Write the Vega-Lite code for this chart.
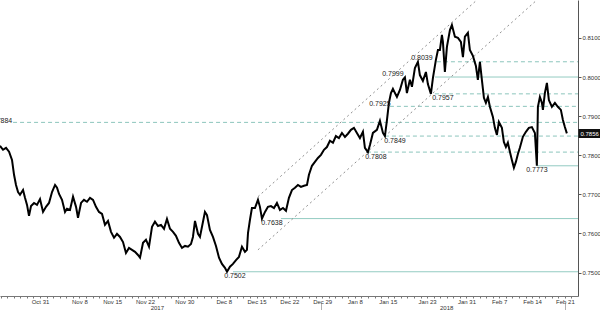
{
  "$schema": "https://vega.github.io/schema/vega-lite/v6.json",
  "width": 578,
  "height": 296,
  "autosize": {"type": "none"},
  "padding": {"left": 0, "top": 0, "right": 22, "bottom": 14},
  "background": "white",
  "config": {"view": {"stroke": null}, "font": "Liberation Sans"},
  "resolve": {"axis": {"x": "independent", "y": "independent"}},
  "datasets": {
    "price": [
      {"t": -6.10, "p": 0.7824}, {"t": -5.64, "p": 0.7814}, {"t": -5.18, "p": 0.7819}, {"t": -4.72, "p": 0.7809},
      {"t": -4.27, "p": 0.7788}, {"t": -3.96, "p": 0.7750}, {"t": -3.66, "p": 0.7724}, {"t": -3.35, "p": 0.7706},
      {"t": -3.05, "p": 0.7699}, {"t": -2.59, "p": 0.7711}, {"t": -2.29, "p": 0.7691}, {"t": -1.98, "p": 0.7673},
      {"t": -1.68, "p": 0.7645}, {"t": -1.37, "p": 0.7670}, {"t": -0.91, "p": 0.7678}, {"t": -0.46, "p": 0.7673},
      {"t": 0.00, "p": 0.7688}, {"t": 0.46, "p": 0.7655}, {"t": 0.91, "p": 0.7668}, {"t": 1.37, "p": 0.7678},
      {"t": 1.83, "p": 0.7706}, {"t": 2.29, "p": 0.7724}, {"t": 2.59, "p": 0.7717}, {"t": 2.90, "p": 0.7701},
      {"t": 3.35, "p": 0.7686}, {"t": 3.81, "p": 0.7655}, {"t": 4.11, "p": 0.7663}, {"t": 4.57, "p": 0.7660},
      {"t": 5.03, "p": 0.7694}, {"t": 5.49, "p": 0.7668}, {"t": 5.79, "p": 0.7640}, {"t": 6.25, "p": 0.7678},
      {"t": 6.70, "p": 0.7686}, {"t": 7.16, "p": 0.7681}, {"t": 7.62, "p": 0.7691}, {"t": 8.08, "p": 0.7686},
      {"t": 8.53, "p": 0.7668}, {"t": 8.99, "p": 0.7655}, {"t": 9.45, "p": 0.7650}, {"t": 9.90, "p": 0.7622},
      {"t": 10.36, "p": 0.7632}, {"t": 10.82, "p": 0.7604}, {"t": 11.28, "p": 0.7589}, {"t": 11.73, "p": 0.7599},
      {"t": 12.19, "p": 0.7591}, {"t": 12.65, "p": 0.7578}, {"t": 13.10, "p": 0.7550}, {"t": 13.56, "p": 0.7563},
      {"t": 14.02, "p": 0.7558}, {"t": 14.48, "p": 0.7553}, {"t": 14.93, "p": 0.7545}, {"t": 15.24, "p": 0.7538},
      {"t": 15.70, "p": 0.7576}, {"t": 16.15, "p": 0.7584}, {"t": 16.61, "p": 0.7566}, {"t": 17.07, "p": 0.7617},
      {"t": 17.52, "p": 0.7630}, {"t": 17.98, "p": 0.7619}, {"t": 18.44, "p": 0.7622}, {"t": 18.90, "p": 0.7612},
      {"t": 19.35, "p": 0.7637}, {"t": 19.81, "p": 0.7612}, {"t": 20.27, "p": 0.7604}, {"t": 20.72, "p": 0.7594},
      {"t": 21.18, "p": 0.7576}, {"t": 21.64, "p": 0.7563}, {"t": 22.10, "p": 0.7568}, {"t": 22.55, "p": 0.7566},
      {"t": 23.01, "p": 0.7573}, {"t": 23.31, "p": 0.7591}, {"t": 23.62, "p": 0.7632}, {"t": 24.08, "p": 0.7599},
      {"t": 24.38, "p": 0.7591}, {"t": 24.84, "p": 0.7630}, {"t": 25.14, "p": 0.7655}, {"t": 25.45, "p": 0.7647},
      {"t": 25.90, "p": 0.7609}, {"t": 26.36, "p": 0.7591}, {"t": 26.82, "p": 0.7568}, {"t": 27.28, "p": 0.7538},
      {"t": 27.73, "p": 0.7522}, {"t": 28.19, "p": 0.7512}, {"t": 28.50, "p": 0.7502}, {"t": 28.95, "p": 0.7515},
      {"t": 29.41, "p": 0.7522}, {"t": 29.87, "p": 0.7532}, {"t": 30.32, "p": 0.7540}, {"t": 30.78, "p": 0.7566},
      {"t": 31.24, "p": 0.7553}, {"t": 31.54, "p": 0.7558}, {"t": 31.70, "p": 0.7601}, {"t": 32.00, "p": 0.7635},
      {"t": 32.30, "p": 0.7665}, {"t": 32.76, "p": 0.7665}, {"t": 33.22, "p": 0.7686}, {"t": 33.52, "p": 0.7668},
      {"t": 33.83, "p": 0.7638}, {"t": 34.29, "p": 0.7655}, {"t": 34.74, "p": 0.7668}, {"t": 35.20, "p": 0.7670},
      {"t": 35.66, "p": 0.7665}, {"t": 36.11, "p": 0.7678}, {"t": 36.57, "p": 0.7660}, {"t": 37.03, "p": 0.7665},
      {"t": 37.49, "p": 0.7658}, {"t": 37.94, "p": 0.7691}, {"t": 38.40, "p": 0.7711}, {"t": 38.86, "p": 0.7717},
      {"t": 39.31, "p": 0.7724}, {"t": 39.77, "p": 0.7719}, {"t": 40.23, "p": 0.7722}, {"t": 40.69, "p": 0.7724},
      {"t": 40.99, "p": 0.7750}, {"t": 41.45, "p": 0.7773}, {"t": 41.90, "p": 0.7783}, {"t": 42.36, "p": 0.7793},
      {"t": 42.82, "p": 0.7801}, {"t": 43.28, "p": 0.7814}, {"t": 43.73, "p": 0.7821}, {"t": 44.19, "p": 0.7837},
      {"t": 44.65, "p": 0.7832}, {"t": 45.10, "p": 0.7849}, {"t": 45.56, "p": 0.7844}, {"t": 46.02, "p": 0.7857},
      {"t": 46.48, "p": 0.7847}, {"t": 46.93, "p": 0.7855}, {"t": 47.39, "p": 0.7865}, {"t": 47.85, "p": 0.7870},
      {"t": 48.30, "p": 0.7857}, {"t": 48.76, "p": 0.7844}, {"t": 49.22, "p": 0.7860}, {"t": 49.52, "p": 0.7819},
      {"t": 49.98, "p": 0.7808}, {"t": 50.29, "p": 0.7826}, {"t": 50.74, "p": 0.7857}, {"t": 51.35, "p": 0.7865},
      {"t": 51.81, "p": 0.7888}, {"t": 52.27, "p": 0.7857}, {"t": 52.57, "p": 0.7849}, {"t": 52.88, "p": 0.7890},
      {"t": 53.18, "p": 0.7934}, {"t": 53.49, "p": 0.7959}, {"t": 53.79, "p": 0.7970}, {"t": 54.10, "p": 0.7959},
      {"t": 54.40, "p": 0.7949}, {"t": 54.86, "p": 0.7967}, {"t": 55.31, "p": 0.7993}, {"t": 55.62, "p": 0.7999},
      {"t": 55.92, "p": 0.7959}, {"t": 56.38, "p": 0.7993}, {"t": 56.69, "p": 0.7975}, {"t": 57.14, "p": 0.8023},
      {"t": 57.60, "p": 0.8039}, {"t": 57.90, "p": 0.8005}, {"t": 58.36, "p": 0.7990}, {"t": 58.82, "p": 0.8013},
      {"t": 59.12, "p": 0.7982}, {"t": 59.58, "p": 0.7957}, {"t": 59.89, "p": 0.7998}, {"t": 60.34, "p": 0.8044},
      {"t": 60.65, "p": 0.8069}, {"t": 60.95, "p": 0.8069}, {"t": 61.26, "p": 0.8108}, {"t": 61.41, "p": 0.8090},
      {"t": 61.71, "p": 0.8013}, {"t": 62.02, "p": 0.8077}, {"t": 62.48, "p": 0.8120}, {"t": 62.78, "p": 0.8133},
      {"t": 63.24, "p": 0.8103}, {"t": 63.70, "p": 0.8100}, {"t": 64.15, "p": 0.8090}, {"t": 64.46, "p": 0.8051},
      {"t": 64.76, "p": 0.8103}, {"t": 65.22, "p": 0.8113}, {"t": 65.52, "p": 0.8069}, {"t": 65.98, "p": 0.8054},
      {"t": 66.44, "p": 0.8028}, {"t": 66.74, "p": 0.7993}, {"t": 67.05, "p": 0.8039}, {"t": 67.35, "p": 0.7993},
      {"t": 67.66, "p": 0.7947}, {"t": 67.96, "p": 0.7934}, {"t": 68.27, "p": 0.7949}, {"t": 68.57, "p": 0.7924},
      {"t": 69.03, "p": 0.7898}, {"t": 69.33, "p": 0.7870}, {"t": 69.64, "p": 0.7852}, {"t": 69.94, "p": 0.7885},
      {"t": 70.40, "p": 0.7870}, {"t": 70.70, "p": 0.7834}, {"t": 71.01, "p": 0.7821}, {"t": 71.31, "p": 0.7832},
      {"t": 71.62, "p": 0.7809}, {"t": 71.92, "p": 0.7788}, {"t": 72.23, "p": 0.7768}, {"t": 72.53, "p": 0.7783},
      {"t": 72.84, "p": 0.7803}, {"t": 73.14, "p": 0.7819}, {"t": 73.60, "p": 0.7847}, {"t": 74.06, "p": 0.7860},
      {"t": 74.51, "p": 0.7870}, {"t": 74.97, "p": 0.7872}, {"t": 75.43, "p": 0.7857}, {"t": 75.73, "p": 0.7773},
      {"t": 75.89, "p": 0.7924}, {"t": 76.19, "p": 0.7949}, {"t": 76.50, "p": 0.7934}, {"t": 76.65, "p": 0.7916},
      {"t": 76.95, "p": 0.7959}, {"t": 77.26, "p": 0.7985}, {"t": 77.56, "p": 0.7941}, {"t": 78.02, "p": 0.7924},
      {"t": 78.48, "p": 0.7934}, {"t": 78.93, "p": 0.7924}, {"t": 79.39, "p": 0.7916}, {"t": 79.70, "p": 0.7890},
      {"t": 80.00, "p": 0.7872}, {"t": 80.30, "p": 0.7856}
    ],
    "solidLevels": [
      {"from": 60.19, "level": 0.8000},
      {"from": 75.73, "level": 0.7773},
      {"from": 36.72, "level": 0.7638},
      {"from": 29.41, "level": 0.7502}
    ],
    "dashedLevels": [
      {"from": 60.5, "level": 0.8039},
      {"from": 60.19, "level": 0.7957},
      {"from": 53.33, "level": 0.7925},
      {"from": -4.11, "level": 0.7884},
      {"from": 52.57, "level": 0.7849},
      {"from": 49.83, "level": 0.7808}
    ],
    "channel": [
      {"line": "upper", "t": 33.22, "p": 0.7694},
      {"line": "upper", "t": 66.59, "p": 0.8197},
      {"line": "lower", "t": 33.22, "p": 0.7558},
      {"line": "lower", "t": 75.73, "p": 0.8197}
    ],
    "labels": [
      {"t": 29.71, "p": 0.7492, "label": "0.7502"},
      {"t": 35.35, "p": 0.7627, "label": "0.7638"},
      {"t": 51.20, "p": 0.7796, "label": "0.7808"},
      {"t": 54.10, "p": 0.7837, "label": "0.7849"},
      {"t": 51.81, "p": 0.7931, "label": "0.7925"},
      {"t": 53.79, "p": 0.8008, "label": "0.7999"},
      {"t": 58.21, "p": 0.8049, "label": "0.8039"},
      {"t": 61.41, "p": 0.7947, "label": "0.7957"},
      {"t": 75.73, "p": 0.7763, "label": "0.7773"},
      {"t": -5.87, "p": 0.7888, "label": "0.7884"}
    ]
  },
  "layer": [
    {
      "data": {"name": "solidLevels"},
      "mark": {"type": "rule", "color": "#93cbc2", "strokeWidth": 1},
      "encoding": {
        "x": {"field": "from", "type": "quantitative", "scale": {"domain": [-6.1, 82], "nice": false, "zero": false}, "axis": null},
        "x2": {"datum": 82},
        "y": {"field": "level", "type": "quantitative", "scale": {"domain": [0.744, 0.8197], "nice": false, "zero": false}, "title": null,
          "axis": {"orient": "right", "values": [0.7856], "format": ".4f", "domain": false, "grid": false, "tickSize": 23, "tickWidth": 9, "tickColor": "#111111", "tickCap": "butt", "labelColor": "#ffffff", "labelPadding": -21, "labelFontSize": 6, "labelFont": "Liberation Sans", "labelBaseline": "middle", "zindex": 2}}
      }
    },
    {
      "data": {"name": "dashedLevels"},
      "mark": {"type": "rule", "color": "#8cc5bc", "strokeWidth": 1, "strokeDash": [4, 3]},
      "encoding": {
        "x": {"field": "from", "type": "quantitative", "scale": {"domain": [-6.1, 82], "nice": false, "zero": false}, "axis": null},
        "x2": {"datum": 82},
        "y": {"field": "level", "type": "quantitative", "scale": {"domain": [0.744, 0.8197], "nice": false, "zero": false}, "axis": null}
      }
    },
    {
      "data": {"name": "channel"},
      "mark": {"type": "line", "color": "#8f8f8f", "strokeWidth": 1, "strokeDash": [2, 3]},
      "encoding": {
        "x": {"field": "t", "type": "quantitative", "scale": {"domain": [-6.1, 82], "nice": false, "zero": false}, "title": null,
          "axis": {"orient": "bottom", "values": [17.8, 42.8, 61.9, 80], "labelExpr": "datum.value == 17.8 ? '2017' : datum.value == 61.9 ? '2018' : ''", "domain": false, "grid": false, "offset": 7, "tickSize": 7, "tickColor": {"condition": {"test": "datum.value == 42.8 || datum.value == 80", "value": "#b0b0b0"}, "value": "transparent"}, "labelPadding": -5.5, "labelFontSize": 6, "labelFont": "Liberation Sans", "labelColor": "#333333", "labelOverlap": false, "labelFlush": false}},
        "y": {"field": "p", "type": "quantitative", "scale": {"domain": [0.744, 0.8197], "nice": false, "zero": false}, "axis": null},
        "detail": {"field": "line", "type": "nominal"}
      }
    },
    {
      "data": {"name": "price"},
      "mark": {"type": "line", "color": "#000000", "strokeWidth": 2},
      "encoding": {
        "x": {"field": "t", "type": "quantitative", "scale": {"domain": [-6.1, 82], "nice": false, "zero": false}, "title": null,
          "axis": {"orient": "bottom", "values": [-6,-5,-4,-3,-2,-1,0,1,2,3,4,5,6,7,8,9,10,11,12,13,14,15,16,17,18,19,20,21,22,23,24,25,26,27,28,29,30,31,32,33,34,35,36,37,38,39,40,41,42,43,44,45,46,47,48,49,50,51,52,53,54,55,56,57,58,59,60,61,62,63,64,65,66,67,68,69,70,71,72,73,74,75,76,77,78,79,80,81],
            "labelExpr": "indexof([0,6,11,16,22,28,33,38,43,48,53,59,65,70,75,80], datum.value) >= 0 ? ['Oct 31','Nov 8','Nov 15','Nov 22','Nov 30','Dec 8','Dec 15','Dec 22','Dec 29','Jan 8','Jan 15','Jan 23','Jan 31','Feb 7','Feb 14','Feb 21'][indexof([0,6,11,16,22,28,33,38,43,48,53,59,65,70,75,80], datum.value)] : ''",
            "tickSize": 2, "tickColor": "#777777", "domainColor": "#777777", "labelPadding": 0.5, "labelFontSize": 6, "labelFont": "Liberation Sans", "labelColor": "#333333", "labelOverlap": false, "labelFlush": false, "grid": false}},
        "y": {"field": "p", "type": "quantitative", "scale": {"domain": [0.744, 0.8197], "nice": false, "zero": false}, "title": null,
          "axis": {"orient": "right", "values": [0.75, 0.76, 0.77, 0.78, 0.79, 0.8, 0.81], "format": ".4f", "tickSize": 3, "tickColor": "#555555", "domainColor": "#555555", "labelPadding": 1, "labelFontSize": 6, "labelFont": "Liberation Sans", "labelColor": "#333333", "grid": false}}
      }
    },
    {
      "data": {"name": "labels"},
      "mark": {"type": "text", "fontSize": 7, "font": "Liberation Sans", "color": "#222222", "align": "center", "baseline": "middle"},
      "encoding": {
        "x": {"field": "t", "type": "quantitative", "scale": {"domain": [-6.1, 82], "nice": false, "zero": false}, "axis": null},
        "y": {"field": "p", "type": "quantitative", "scale": {"domain": [0.744, 0.8197], "nice": false, "zero": false}, "axis": null},
        "text": {"field": "label", "type": "nominal"}
      }
    }
  ]
}
